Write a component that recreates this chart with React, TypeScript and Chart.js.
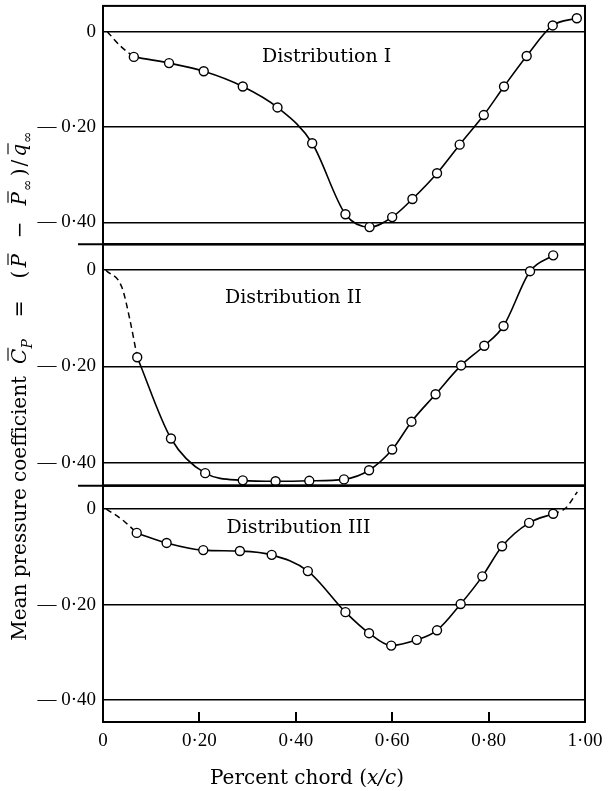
import React, { useEffect, useRef } from "react";
import { Chart, registerables } from "chart.js";

Chart.register(...registerables);

// ---------- data ----------
const chordI = [0.064, 0.137, 0.209, 0.29, 0.362, 0.434, 0.503, 0.553, 0.6, 0.642, 0.693, 0.74, 0.79, 0.832, 0.879, 0.933, 0.983];
const cpI = [-0.053, -0.066, -0.083, -0.115, -0.159, -0.234, -0.383, -0.41, -0.389, -0.351, -0.297, -0.237, -0.175, -0.115, -0.051, 0.013, 0.028];
const leadChordI = [0.009, 0.036, 0.064];
const leadCpI = [0.0, -0.03, -0.053];

const chordII = [0.071, 0.141, 0.212, 0.29, 0.358, 0.428, 0.5, 0.552, 0.6, 0.64, 0.69, 0.743, 0.791, 0.831, 0.886, 0.934];
const cpII = [-0.181, -0.35, -0.422, -0.437, -0.439, -0.438, -0.435, -0.416, -0.373, -0.315, -0.258, -0.198, -0.157, -0.116, -0.002, 0.031];
const leadChordII = [0.006, 0.039, 0.056, 0.071];
const leadCpII = [0.0, -0.035, -0.104, -0.181];

const chordIII = [0.07, 0.132, 0.208, 0.284, 0.35, 0.425, 0.503, 0.552, 0.598, 0.651, 0.693, 0.742, 0.787, 0.828, 0.884, 0.934];
const cpIII = [-0.05, -0.071, -0.086, -0.088, -0.096, -0.13, -0.216, -0.26, -0.286, -0.274, -0.254, -0.199, -0.141, -0.078, -0.029, -0.01];
const leadChordIII = [0.007, 0.042, 0.07];
const leadCpIII = [0.0, -0.024, -0.05];
const tailChordIII = [0.934, 0.96, 0.984];
const tailCpIII = [-0.01, 0.002, 0.036];

const xTickValues = [0, 0.2, 0.4, 0.6, 0.8, 1.0];
const xTickLabels = ["0", "0·20", "0·40", "0·60", "0·80", "1·00"];
const yTickValues = [0, -0.2, -0.4];
const yTickLabels = ["0", "— 0·20", "— 0·40"];
const panelNames = ["Distribution I", "Distribution II", "Distribution III"];

type Piece = { t: string; it?: boolean; sub?: boolean; over?: boolean; gap?: number };
const yTitlePieces: Piece[] = [
  { t: "Mean pressure coefficient", gap: 12 },
  { t: "C", it: true, over: true },
  { t: "P", it: true, sub: true, gap: 22 },
  { t: "=", gap: 22 },
  { t: "(", gap: 3 },
  { t: "P", it: true, over: true, gap: 16 },
  { t: "−", gap: 16 },
  { t: "P", it: true, over: true, gap: 1 },
  { t: "∞", sub: true, gap: 3 },
  { t: ")", gap: 2 },
  { t: "/", gap: 3 },
  { t: "q", it: true, over: true, gap: 1 },
  { t: "∞", sub: true },
];
const xTitlePieces: Piece[] = [
  { t: "Percent chord (" },
  { t: "x/c", it: true },
  { t: ")" },
];

const SERIF = "'Liberation Serif', 'DejaVu Serif', serif";
const TITLE_SERIF = "'DejaVu Serif', 'Liberation Serif', serif";

function pts(xs: number[], ys: number[]) {
  return xs.map((x, i) => ({ x, y: ys[i] }));
}

function measureRich(ctx: CanvasRenderingContext2D, pieces: Piece[], family: string, size: number) {
  let w = 0;
  for (const p of pieces) {
    const s = p.sub ? size * 0.7 : size;
    ctx.font = `${p.it ? "italic " : ""}${s}px ${family}`;
    w += ctx.measureText(p.t).width + (p.gap || 0);
  }
  return w;
}

function drawRich(ctx: CanvasRenderingContext2D, pieces: Piece[], family: string, size: number, x0: number, baseline: number) {
  let x = x0;
  for (const p of pieces) {
    const s = p.sub ? size * 0.7 : size;
    ctx.font = `${p.it ? "italic " : ""}${s}px ${family}`;
    const w = ctx.measureText(p.t).width;
    ctx.fillText(p.t, x, baseline + (p.sub ? size * 0.3 : 0));
    if (p.over) {
      const oy = baseline - size * 0.9;
      ctx.beginPath();
      ctx.lineWidth = 1.1;
      ctx.moveTo(x + w * 0.2, oy);
      ctx.lineTo(x + w * 1.05, oy);
      ctx.stroke();
    }
    x += w + (p.gap || 0);
  }
}

const framePlugin = {
  id: "frame",
  afterDraw(chart: any) {
    const { ctx, chartArea } = chart;
    const ys = ["y1", "y2", "y3"].map((k) => chart.scales[k]);
    const xs = chart.scales.x;
    ctx.save();
    ctx.strokeStyle = "#000";
    ctx.fillStyle = "#000";
    ctx.lineWidth = 2;
    ys.forEach((s: any, i: number) => {
      ctx.strokeRect(chartArea.left, s.top, chartArea.right - chartArea.left, s.bottom - s.top);
      if (i > 0) {
        ctx.beginPath();
        ctx.moveTo(chartArea.left - 25, s.top);
        ctx.lineTo(chartArea.right, s.top);
        ctx.stroke();
      }
    });
    // inward x tick marks on the bottom axis
    ctx.beginPath();
    xTickValues.slice(1, -1).forEach((v) => {
      const px = Math.round(xs.getPixelForValue(v));
      ctx.moveTo(px, chartArea.bottom);
      ctx.lineTo(px, chartArea.bottom - 10);
    });
    ctx.stroke();
    // panel names
    const anchorsX = [0.33, 0.253, 0.256];
    const anchorsY = [-0.054, -0.058, -0.04];
    ctx.font = `19px ${TITLE_SERIF}`;
    ctx.textAlign = "left";
    ctx.textBaseline = "middle";
    ys.forEach((s: any, i: number) => {
      ctx.fillText(panelNames[i], xs.getPixelForValue(anchorsX[i]), s.getPixelForValue(anchorsY[i]));
    });
    // x title
    ctx.textBaseline = "alphabetic";
    const xSize = 20;
    const xw = measureRich(ctx, xTitlePieces, TITLE_SERIF, xSize);
    drawRich(ctx, xTitlePieces, TITLE_SERIF, xSize, 307 - xw / 2, 784);
    // y title
    const ySize = 20;
    const yw = measureRich(ctx, yTitlePieces, TITLE_SERIF, ySize);
    ctx.translate(26, 386);
    ctx.rotate(-Math.PI / 2);
    drawRich(ctx, yTitlePieces, TITLE_SERIF, ySize, -yw / 2, 0);
    ctx.restore();
  },
};

function yScale(min: number, max: number, weight: number, stackWeight: number) {
  return {
    type: "linear",
    position: "left",
    stack: "cp",
    stackWeight,
    weight,
    min,
    max,
    offset: false,
    afterBuildTicks: (a: any) => {
      a.ticks = yTickValues.map((v) => ({ value: v }));
    },
    ticks: {
      callback: (_v: any, i: number) => yTickLabels[i],
      font: { family: SERIF, size: 19 },
      color: "#000",
      padding: 7,
    },
    grid: { color: "#000", lineWidth: 1.6, drawTicks: false },
    border: { display: true, color: "#000", width: 2 },
    afterFit: (a: any) => {
      a.width = 103;
      a.paddingTop = 0;
      a.paddingBottom = 0;
    },
  };
}

function solid(xs: number[], ys: number[], yAxisID: string) {
  return {
    data: pts(xs, ys),
    xAxisID: "x",
    yAxisID,
    borderColor: "#000",
    borderWidth: 1.6,
    pointRadius: 4.5,
    pointBorderWidth: 1.4,
    pointBackgroundColor: "#fff",
    pointBorderColor: "#000",
    cubicInterpolationMode: "monotone",
    fill: false,
    order: 1,
  };
}

function dashed(xs: number[], ys: number[], yAxisID: string) {
  return {
    data: pts(xs, ys),
    xAxisID: "x",
    yAxisID,
    borderColor: "#000",
    borderWidth: 1.5,
    borderDash: [6, 4],
    pointRadius: 0,
    cubicInterpolationMode: "monotone",
    fill: false,
    order: 2,
  };
}

export default function App() {
  const ref = useRef<HTMLCanvasElement | null>(null);
  useEffect(() => {
    if (!ref.current) return;
    const chart = new Chart(ref.current, {
      type: "line",
      data: {
        datasets: [
          dashed(leadChordI, leadCpI, "y1"),
          solid(chordI, cpI, "y1"),
          dashed(leadChordII, leadCpII, "y2"),
          solid(chordII, cpII, "y2"),
          dashed(leadChordIII, leadCpIII, "y3"),
          dashed(tailChordIII, tailCpIII, "y3"),
          solid(chordIII, cpIII, "y3"),
        ] as any,
      },
      options: {
        animation: false,
        responsive: true,
        maintainAspectRatio: false,
        layout: { padding: { left: 0, top: 4, right: 23, bottom: 0 } },
        plugins: { legend: { display: false }, tooltip: { enabled: false } },
        scales: {
          x: {
            type: "linear",
            position: "bottom",
            min: 0,
            max: 1,
            afterBuildTicks: (a: any) => {
              a.ticks = xTickValues.map((v) => ({ value: v }));
            },
            ticks: {
              callback: (_v: any, i: number) => xTickLabels[i],
              font: { family: SERIF, size: 19 },
              color: "#000",
              padding: 8,
              maxRotation: 0,
              autoSkip: false,
            },
            grid: { drawOnChartArea: false, drawTicks: false },
            border: { display: true, color: "#000", width: 2 },
            afterFit: (a: any) => {
              a.height = 69;
              a.paddingLeft = 0;
              a.paddingRight = 0;
            },
          },
          y1: yScale(-0.446, 0.054, 3, 239),
          y2: yScale(-0.448, 0.054, 2, 242),
          y3: yScale(-0.446, 0.049, 1, 237),
        } as any,
      },
      plugins: [framePlugin],
    });
    return () => chart.destroy();
  }, []);
  return (
    <div style={{ position: "absolute", left: 0, top: 0, width: 608, height: 791, background: "#fff" }}>
      <canvas ref={ref} />
    </div>
  );
}
